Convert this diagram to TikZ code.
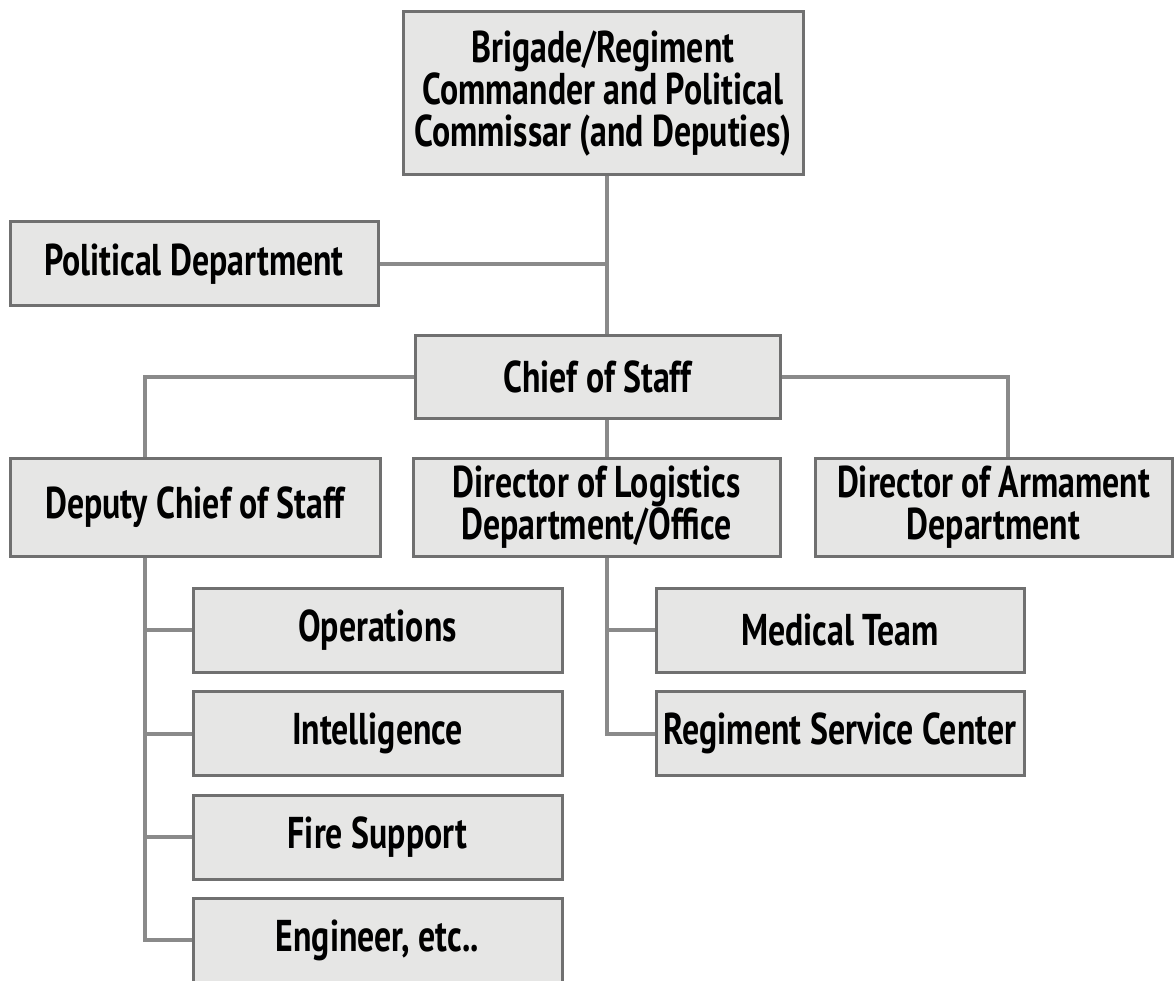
\documentclass[tikz,border=0pt]{standalone}
\usepackage{fontspec}
\setmainfont{PT Sans}[FakeStretch=0.76]
\usepackage{tikz}
\pgfdeclarelayer{background}
\pgfdeclarelayer{foreground}
\pgfsetlayers{background,main,foreground}
\definecolor{boxfill}{RGB}{230,230,229}
\definecolor{boxline}{RGB}{112,112,112}
\definecolor{linkline}{RGB}{138,138,138}
\tikzset{
  unit/.style={draw=boxline,line width=3pt,fill=boxfill,align=center,
    inner sep=0pt,minimum height=84pt,
    font=\fontsize{44.5}{42}\selectfont\bfseries},
  link/.style={draw=linkline,line width=4pt}
}

\begin{document}
\begin{tikzpicture}[x=1pt,y=-1pt]
\useasboundingbox (0,0) rectangle (1174,981);
\begin{pgfonlayer}{foreground}
\node[unit,minimum width=400pt,minimum height=163pt] (cmd) at (603,93.5) {Brigade/Regiment\\Commander and Political\\Commissar (and Deputies)};
\node[unit,minimum width=368pt] (pol) at (194,264) {Political Department};
\node[unit,minimum width=365pt,minimum height=83pt] (cos) at (597.5,376.5) {Chief of Staff};
\node[unit,minimum width=370pt,minimum height=98pt] (dcos) at (195,507) {Deputy Chief of Staff};
\node[unit,minimum width=367pt,minimum height=98pt] (log) at (596.5,507) {Director of Logistics\\Department/Office};
\node[unit,minimum width=357pt,minimum height=98pt] (arm) at (993.5,507) {Director of Armament\\Department};
\node[unit,minimum width=369pt] (ops) at (377.5,630) {Operations};
\node[unit,minimum width=369pt] (intel) at (377.5,733.5) {Intelligence};
\node[unit,minimum width=369pt] (fire) at (377.5,837) {Fire Support};
\node[unit,minimum width=369pt] (eng) at (377.5,940) {Engineer, etc..};
\node[unit,minimum width=368pt] (med) at (840,630) {Medical Team};
\node[unit,minimum width=368pt] (rsc) at (840,733.5) {Regiment Service Center};
\end{pgfonlayer}
\begin{pgfonlayer}{background}
\coordinate (trunk) at (607,0);
\draw[link] (cmd.south -| trunk) -- (cos.north -| trunk);
\draw[link] (pol.east) -- (pol.east -| trunk);
\draw[link] (cos.west) -| (dcos.north -| 145,0);
\draw[link] (cos.east) -| (arm.north -| 1008,0);
\draw[link] (cos.south -| trunk) -- (log.north -| trunk);
\draw[link] (dcos.south -| 145,0) |- (eng.west);
\draw[link] (ops.west) -- (ops.west -| 145,0);
\draw[link] (intel.west) -- (intel.west -| 145,0);
\draw[link] (fire.west) -- (fire.west -| 145,0);
\draw[link] (log.south -| trunk) |- (rsc.west);
\draw[link] (med.west) -- (med.west -| trunk);
\end{pgfonlayer}
\end{tikzpicture}
\end{document}
